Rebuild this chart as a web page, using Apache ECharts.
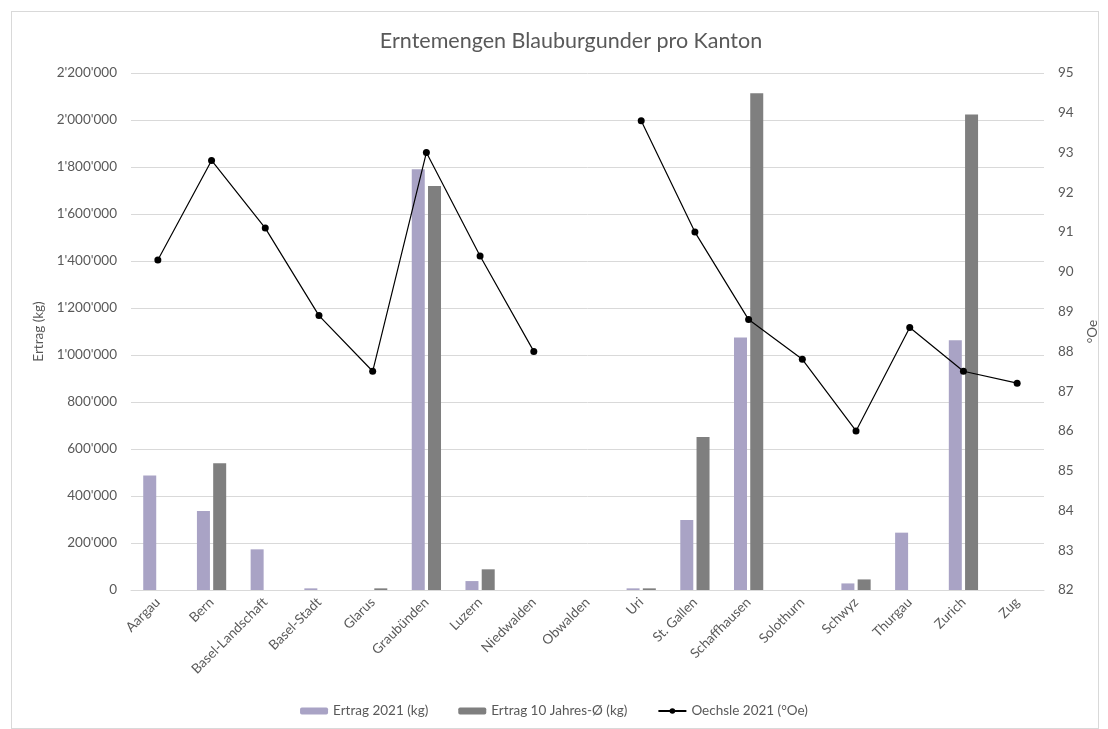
<!DOCTYPE html>
<html>
<head>
<meta charset="utf-8">
<script src="https://cdn.jsdelivr.net/npm/echarts@6/dist/echarts.min.js"></script>
<style>
  html, body { margin: 0; padding: 0; background: #fff; }
  #frame { position: absolute; left: 11px; top: 11px; width: 1086px; height: 716px; border: 1px solid #d9d9d9; }
  #chart { position: absolute; left: 0; top: 0; width: 1108px; height: 729px; }
</style>
</head>
<body>
<div id="frame"></div>
<div id="chart"></div>
<script>
  // Kantone
  var kantone = ['Aargau', 'Bern', 'Basel-Landschaft', 'Basel-Stadt', 'Glarus', 'Graubünden', 'Luzern',
    'Niedwalden', 'Obwalden', 'Uri', 'St. Gallen', 'Schaffhausen', 'Solothurn', 'Schwyz', 'Thurgau', 'Zurich', 'Zug']
  // Ertrag 2021 (kg)
  var ertrag2021 = [487000, 336000, 173000, 7000, null, 1790000, 38000,
    null, null, 7000, 298000, 1074000, null, 28000, 244000, 1063000, null]
  // Ertrag 10 Jahres-Ø (kg)
  var ertrag10j = [null, 539000, null, null, 7000, 1719000, 88000,
    null, null, 7000, 651000, 2114000, null, 45000, null, 2023000, null]
  // Oechsle 2021 (°Oe)
  var oechsle = [90.3, 92.8, 91.1, 88.9, 87.5, 93.0, 90.4,
    88.0, null, 93.8, 91.0, 88.8, 87.8, 86.0, 88.6, 87.5, 87.2]

  var textColor = '#595959'
  var fontFamily = 'Lato, "Open Sans", sans-serif'
  var labelSize = 13.5

  function fmt (v) {
    return String(v).replace(/\B(?=(\d{3})+(?!\d))/g, "'")
  }

  var myChart = echarts.init(document.getElementById('chart'))
  var option = {
    animation: false,
    textStyle: { fontFamily: fontFamily },
    title: {
      text: 'Erntemengen Blauburgunder pro Kanton',
      left: 566,
      top: 25,
      textAlign: 'center',
      textStyle: { fontSize: 21.5, fontWeight: 'normal', color: textColor, fontFamily: fontFamily }
    },
    legend: {
      bottom: 6,
      left: 'center',
      itemWidth: 28,
      itemHeight: 7,
      itemGap: 30,
      textStyle: { fontSize: labelSize, color: textColor },
      data: ['Ertrag 2021 (kg)', 'Ertrag 10 Jahres-Ø (kg)', 'Oechsle 2021 (°Oe)']
    },
    grid: {
      left: 131,
      right: 61,
      top: 73,
      bottom: 139,
      containLabel: false
    },
    xAxis: [{
      type: 'category',
      data: kantone,
      axisLine: { lineStyle: { color: '#d9d9d9', width: 1 } },
      axisTick: { show: false },
      axisLabel: { rotate: 45, fontSize: labelSize, color: textColor, margin: 10, interval: 0 }
    }],
    yAxis: [
      {
        type: 'value',
        name: 'Ertrag (kg)',
        nameLocation: 'middle',
        nameRotate: 90,
        nameGap: 76,
        nameTextStyle: { fontSize: labelSize, color: textColor },
        min: 0,
        max: 2200000,
        interval: 200000,
        axisLine: { show: false },
        axisTick: { show: false },
        splitLine: { lineStyle: { color: '#d9d9d9', width: 1 } },
        axisLabel: { fontSize: labelSize, color: textColor, margin: 14, formatter: fmt }
      },
      {
        type: 'value',
        name: '°Oe',
        nameLocation: 'middle',
        nameRotate: 90,
        nameGap: 42,
        nameTextStyle: { fontSize: labelSize, color: textColor },
        min: 82,
        max: 95,
        interval: 1,
        axisLine: { show: false },
        axisTick: { show: false },
        splitLine: { show: false },
        axisLabel: { fontSize: labelSize, color: textColor, margin: 14 }
      }
    ],
    series: [
      {
        name: 'Ertrag 2021 (kg)',
        type: 'bar',
        data: ertrag2021,
        barWidth: 13,
        barGap: '25%',
        itemStyle: { color: '#a9a3c5' }
      },
      {
        name: 'Ertrag 10 Jahres-Ø (kg)',
        type: 'bar',
        data: ertrag10j,
        barWidth: 13,
        barGap: '25%',
        itemStyle: { color: '#7f7f7f' }
      },
      {
        name: 'Oechsle 2021 (°Oe)',
        type: 'line',
        yAxisIndex: 1,
        data: oechsle,
        connectNulls: false,
        symbol: 'circle',
        symbolSize: 7,
        lineStyle: { color: '#000', width: 1.2 },
        itemStyle: { color: '#000' }
      }
    ]
  }
  myChart.setOption(option)
</script>
</body>
</html>
